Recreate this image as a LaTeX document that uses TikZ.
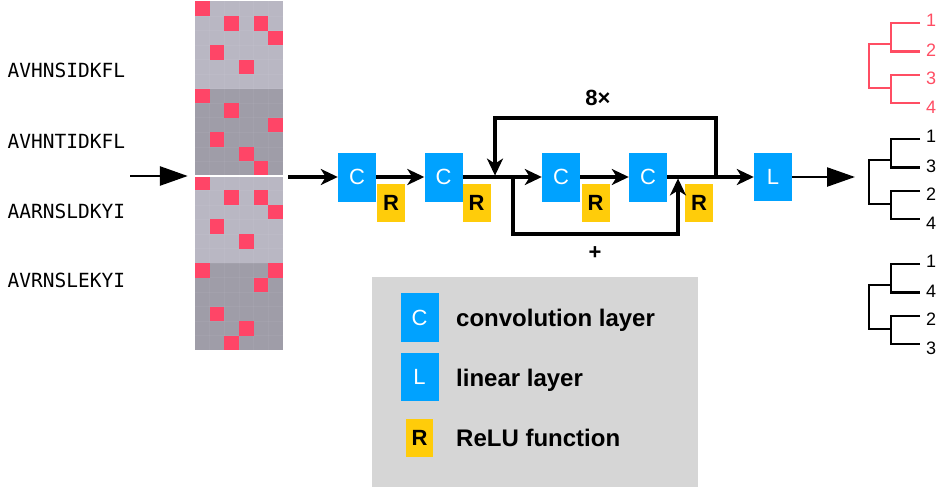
\documentclass[tikz,border=0pt]{standalone}
\usepackage{fontspec}
\setmainfont{Liberation Sans}
\newfontfamily\monofam{DejaVu Sans Mono}
\usetikzlibrary{arrows.meta,calc}
\definecolor{cblue}{HTML}{00A2FF}
\definecolor{ryel}{HTML}{FFCC0A}
\definecolor{mred}{HTML}{FF4567}
\definecolor{tred}{HTML}{FF4D63}
\definecolor{mlight}{HTML}{B9B7C3}
\definecolor{mdark}{HTML}{9F9DA8}
\definecolor{legbg}{HTML}{D6D6D6}
\begin{document}
\begin{tikzpicture}[x=1pt,y=-1pt,
  cbox/.style={fill=cblue, minimum width=38pt, minimum height=49pt, inner sep=0pt, text=white, font=\fontsize{22}{22}\selectfont},
  rbox/.style={fill=ryel, minimum width=28pt, minimum height=38pt, inner sep=0pt, font=\bfseries\fontsize{22}{22}\selectfont},
  seq/.style={anchor=west, font=\monofam\fontsize{19.5}{20}\selectfont, inner sep=0pt},
  flow/.style={line width=3.5pt, -{Stealth[length=17pt,width=16pt,inset=5pt]}},
  plain/.style={line width=3.5pt},
  big/.style={line width=2.7pt, -{Triangle[length=28pt,width=19pt]}},
  tree/.style={line width=2.9pt},
  leaf/.style={font=\fontsize{18}{18}\selectfont, inner sep=0pt},
  legtxt/.style={anchor=base west, font=\bfseries\fontsize{24}{24}\selectfont, inner sep=0pt},
  cell/.style={fill=mred},
  lbl/.style={font=\bfseries\fontsize{22}{22}\selectfont, inner sep=0pt}
]
\useasboundingbox (0,0) rectangle (942,487);

% ---- sequences
\node[seq] (s1) at (7.5,70.3) {AVHNSIDKFL};
\node[seq] (s2) at (7.5,141) {AVHNTIDKFL};
\node[seq] (s3) at (7.5,211) {AARNSLDKYI};
\node[seq] (s4) at (7.5,280) {AVRNSLEKYI};

% ---- matrix
\fill[mlight] (195,1.5) rectangle (283,88.7);
\fill[mdark] (195,88.7) rectangle (283,175.9);
\fill[mlight] (195,175.9) rectangle (283,263.1);
\fill[mdark] (195,263.1) rectangle (283,350.3);
\foreach \i in {1,...,5}
  \draw[white, opacity=0.05, line width=0.6pt] ({195+\i*14.67},1.5) -- ({195+\i*14.67},350.3);
\foreach \i in {1,...,23}
  \draw[white, opacity=0.05, line width=0.6pt] (195,{1.5+\i*14.53}) -- (283,{1.5+\i*14.53});
\foreach \c/\r in {0/0,2/1,4/1,5/2,1/3,3/4,
                   0/6,2/7,5/8,1/9,3/10,4/11,
                   0/12,2/13,4/13,5/14,1/15,3/16,
                   0/18,5/18,4/19,1/21,3/22,2/23}
  \fill[cell] ({195+\c*14.67},{1.5+\r*14.53}) rectangle ++(14.67,14.53);
\draw[white, line width=1.2pt] (193,175.9) -- (284,175.9);
\node[inner sep=0pt, minimum width=88pt, minimum height=348.8pt] (mat) at (239,175.9) {};

% ---- network boxes
\node[cbox] (C1) at (357,177) {C};
\node[rbox] (R1) at (391,203) {R};
\node[cbox] (C2) at (443.5,177) {C};
\node[rbox] (R2) at (476.5,203) {R};
\node[cbox] (C3) at (561,177) {C};
\node[rbox] (R3) at (595.5,203) {R};
\node[cbox] (C4) at (648,177) {C};
\node[rbox] (R4) at (699,203) {R};
\node[cbox, minimum height=48pt] (L) at (773,177) {L};

\coordinate (in) at (130,176);
\coordinate (out) at (855,177);
\coordinate (j1) at (513,177);
\coordinate (t1) at (716,177);
\coordinate (t2) at (495,175.6);
\coordinate (u1) at (678,178.4);
\coordinate (top) at (605,118);
\coordinate (bot) at (595,234);

\draw[big, shorten >=7pt] (in) -- (in -| mat.west);
\draw[flow, shorten <=5pt] (mat.east |- C1) -- (C1.west);
\draw[flow] (C1) -- (C2);
\draw[plain] (C2.east) -- (j1);
\draw[flow] (j1) -- (C3.west);
\draw[flow] (C3) -- (C4);
\draw[flow] (C4) -- (L);
\draw[flow] (t1) |- (top) -| (t2);
\draw[flow] (j1) |- (bot) -| (u1);
\draw[big, line width=2.4pt] (L) -- (out);

\node[lbl] (rep) at (598,98) {8×};
\node[lbl] (plus) at (595,253) {+};

% ---- legend
\node[fill=legbg, minimum width=326pt, minimum height=212pt, inner sep=0pt, anchor=north west] (leg) at (372,277) {};
\node[cbox] (lc) at (419.5,317.5) {C};
\node[cbox, minimum height=48pt] (ll) at (419.5,377) {L};
\node[rbox, minimum width=27pt] (lr) at (419.5,438) {R};
\node[legtxt] (tc) at (456,326) {convolution layer};
\node[legtxt] (tl) at (456,386.5) {linear layer};
\node[legtxt] (tr) at (456,446.5) {ReLU function};

% ---- trees
\foreach \yy/\a/\b/\c/\d/\col in {23/1/2/3/4/tred, 139/1/3/2/4/black, 264/1/4/2/3/black}{
  \draw[tree,\col] (920,\yy) -| (891,{\yy+28.5}) -- (920,{\yy+28.5});
  \draw[tree,\col] (920,{\yy+52}) -| (891,{\yy+80}) -- (920,{\yy+80});
  \draw[tree,\col] (891,{\yy+21}) -| (869,{\yy+65}) -- (891,{\yy+65});
  \node[leaf,text=\col] (lf-\yy-a) at (931,{\yy-3}) {\a};
  \node[leaf,text=\col] (lf-\yy-b) at (931,{\yy+27.5}) {\b};
  \node[leaf,text=\col] (lf-\yy-c) at (931,{\yy+55}) {\c};
  \node[leaf,text=\col] (lf-\yy-d) at (931,{\yy+84}) {\d};
}
\end{tikzpicture}
\end{document}
